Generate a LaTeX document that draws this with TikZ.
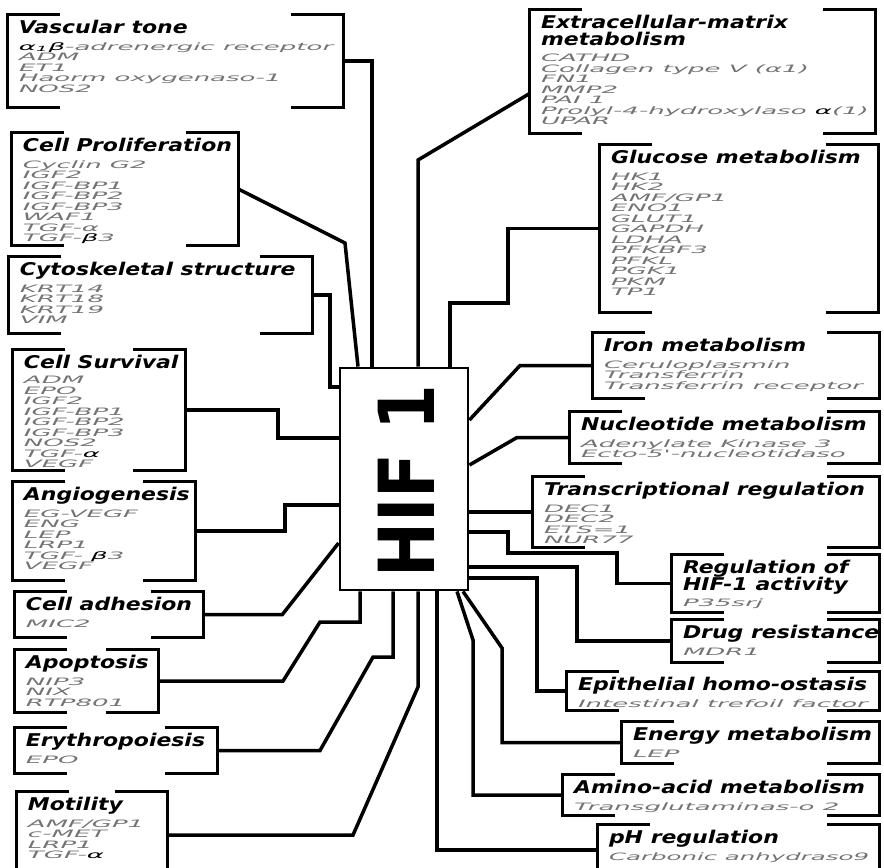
\documentclass[tikz,border=0pt]{standalone}
\usepackage{fontspec}
\usepackage{graphicx}
\usetikzlibrary{fit}
\newfontfamily\titlefont[FakeStretch=1.25]{DejaVu Sans}
\newfontfamily\genefont[FakeStretch=2.55]{DejaVu Sans}
\newfontfamily\hiffont{DejaVu Sans}
\newcommand{\grouptitle}[1]{\smash{\titlefont\bfseries\itshape\fontsize{10}{10}\selectfont\color{black}#1}}

\begin{document}
\begin{tikzpicture}[
  x=0.02cm, y=-0.02cm,
  lbrk/.style={draw, line width=2pt, to path={([xshift=1.05cm]\tikztostart) -- (\tikztostart) -- (\tikztotarget) -- ([xshift=1.05cm]\tikztotarget)}},
  rbrk/.style={draw, line width=2pt, to path={([xshift=-1.05cm]\tikztostart) -- (\tikztostart) -- (\tikztotarget) -- ([xshift=-1.05cm]\tikztotarget)}},
  grp/.style={inner sep=0pt, append after command={
    (\tikzlastnode.north west) edge[lbrk] (\tikzlastnode.south west)
    (\tikzlastnode.north east) edge[rbrk] (\tikzlastnode.south east)}},
  gtxt/.style={anchor=north west, inner sep=0pt, align=left, text=black!55,
    font=\genefont\itshape\fontsize{5.8}{6}\selectfont, xshift=0.22cm, yshift=-0.37cm},
  link/.style={line width=2pt}
]
\useasboundingbox (0,0) rectangle (884,867);
\clip (0,0) rectangle (884,867);

% HIF 1 in the middle
\node[draw, line width=1.6pt, inner sep=0pt, fit={(340,368) (468,590)}] (hif) {};
\node[rotate=90, font=\hiffont\bfseries\fontsize{44}{44}\selectfont] (hif-t) at (406,481) {\scalebox{0.85}[1]{HIF 1}};

% left column
\node[grp, fit={(8,15) (343,107)}] (vasc) {};
\node[gtxt] (vasc-t) at (vasc.north west) {\grouptitle{Vascular tone}\\[3.4pt]
  {\color{black}α\textsubscript{1}β}-adrenergic receptor\\ ADM\\ ET1\\ Haorm oxygenaso-1\\ NOS2};
\node[grp, fit={(12,133) (238,245)}] (prolif) {};
\node[gtxt] (prolif-t) at (prolif.north west) {\grouptitle{Cell Proliferation}\\[3.4pt]
  Cyclin G2\\ IGF2\\ IGF-BP1\\ IGF-BP2\\ IGF-BP3\\ WAF1\\ TGF-α\\ TGF-{\color{black}β}3};
\node[grp, fit={(9,257) (312,333)}] (cyto) {};
\node[gtxt] (cyto-t) at (cyto.north west) {\grouptitle{Cytoskeletal structure}\\[3.4pt]
  KRT14\\ KRT18\\ KRT19\\ VIM};
\node[grp, fit={(13,350) (185,470)}] (surv) {};
\node[gtxt] (surv-t) at (surv.north west) {\grouptitle{Cell Survival}\\[2.6pt]
  ADM\\ EPO\\ IGF2\\ IGF-BP1\\ IGF-BP2\\ IGF-BP3\\ NOS2\\ TGF-{\color{black}α}\\ VEGF};
\node[grp, fit={(13,482) (195,580)}] (angio) {};
\node[gtxt] (angio-t) at (angio.north west) {\grouptitle{Angiogenesis}\\[3.4pt]
  EG-VEGF\\ ENG\\ LEP\\ LRP1\\ TGF- {\color{black}β}3\\ VEGF};
\node[grp, fit={(15,592) (203,637)}] (adh) {};
\node[gtxt] (adh-t) at (adh.north west) {\grouptitle{Cell adhesion}\\[3.4pt] MIC2};
\node[grp, fit={(15,650) (158,712)}] (apop) {};
\node[gtxt] (apop-t) at (apop.north west) {\grouptitle{Apoptosis}\\[3.4pt]
  NIP3\\ NIX\\ RTP801};
\node[grp, fit={(15,728) (217,773)}] (eryth) {};
\node[gtxt] (eryth-t) at (eryth.north west) {\grouptitle{Erythropoiesis}\\[3.4pt] EPO};
\node[grp, fit={(17,792) (167,878)}] (mot) {};
\node[gtxt] (mot-t) at (mot.north west) {\grouptitle{Motility}\\[3.4pt]
  AMF/GP1\\ c-MET\\ LRP1\\ TGF-{\color{black}α}};

% right column
\node[grp, fit={(530,10) (875,133)}] (ecm) {};
\node[gtxt] (ecm-t) at (ecm.north west) {\grouptitle{Extracellular-matrix}\\[3.4pt]
  \grouptitle{metabolism}\\[3.4pt]
  CATHD\\ Collagen type V (α1)\\ FN1\\ MMP2\\ PAI 1\\ Prolyl-4-hydroxylaso {\color{black}α}(1)\\ UPAR};
\node[grp, fit={(600,145) (878,312)}] (gluc) {};
\node[gtxt] (gluc-t) at (gluc.north west) {\grouptitle{Glucose metabolism}\\[3.4pt]
  HK1\\ HK2\\ AMF/GP1\\ ENO1\\ GLUT1\\ GAPDH\\ LDHA\\ PFKBF3\\ PFKL\\ PGK1\\ PKM\\ TP1};
\node[grp, fit={(593,333) (879,398)}] (iron) {};
\node[gtxt] (iron-t) at (iron.north west) {\grouptitle{Iron metabolism}\\[3.4pt]
  Ceruloplasmin\\ Transferrin\\ Transferrin receptor};
\node[grp, fit={(570,412) (879,463)}] (nucl) {};
\node[gtxt] (nucl-t) at (nucl.north west) {\grouptitle{Nucleotide metabolism}\\[3.4pt]
  Adenylate Kinase 3\\ Ecto-5'-nucleotidaso};
\node[grp, fit={(533,477) (879,547)}] (transc) {};
\node[gtxt] (transc-t) at (transc.north west) {\grouptitle{Transcriptional regulation}\\[3.4pt]
  DEC1\\ DEC2\\ ETS=1\\ NUR77};
\node[grp, fit={(672,555) (879,612)}] (reg) {};
\node[gtxt] (reg-t) at (reg.north west) {\grouptitle{Regulation of}\\[3.4pt]
  \grouptitle{HIF-1 activity}\\[3.4pt] P35srj};
\node[grp, fit={(672,620) (879,662)}] (drug) {};
\node[gtxt] (drug-t) at (drug.north west) {\grouptitle{Drug resistance}\\[3.4pt] MDR1};
\node[grp, fit={(567,672) (879,710)}] (epith) {};
\node[gtxt] (epith-t) at (epith.north west) {\grouptitle{Epithelial homo-ostasis}\\[3.4pt]
  Intestinal trefoil factor};
\node[grp, fit={(622,722) (879,763)}] (energy) {};
\node[gtxt] (energy-t) at (energy.north west) {\grouptitle{Energy metabolism}\\[3.4pt] LEP};
\node[grp, fit={(563,775) (879,815)}] (amino) {};
\node[gtxt] (amino-t) at (amino.north west) {\grouptitle{Amino-acid metabolism}\\[3.4pt]
  Transglutaminas-o 2};
\node[grp, fit={(598,825) (879,875)}] (ph) {};
\node[gtxt] (ph-t) at (ph.north west) {\grouptitle{pH regulation}\\[3.4pt]
  \scalebox{0.94}[1]{Carbonic anhydraso9}};

% connectors, left side
\draw[link] (vasc.east) -| (372,0 |- hif.north);
\draw[link] (prolif.east) -- (345,243) -- (358,0 |- hif.north);
\draw[link] (cyto.east) -| (330,387) -- (hif.west |- 0,387);
\draw[link] (surv.east) -| (278,438) -- (hif.west |- 0,438);
\draw[link] (angio.east) -| (285,505) -- (hif.west |- 0,505);
\draw[link] (adh.east) -- ++(79,0) -- (hif.west |- 0,543);
\draw[link] (apop.east) -- (283,0 |- apop.east) -- (320,622) -| (360,0 |- hif.south);
\draw[link] (eryth.east) -- (320,0 |- eryth.east) -- (373,657) -| (393,0 |- hif.south);
\draw[link] (mot.east) -- (353,0 |- mot.east) -- (418,687) -- (418,0 |- hif.south);

% connectors, right side
\draw[link] ([yshift=-0.44cm]ecm.west) -- (418,160) -- (418,0 |- hif.north);
\draw[link] (gluc.west) -| (508,303) -| (450,0 |- hif.north);
\draw[link] (iron.west) -- (520,0 |- iron.west) -- (hif.east |- 0,420);
\draw[link] (nucl.west) -- (517,0 |- nucl.west) -- (hif.east |- 0,465);
\draw[link] (transc.west) -- (hif.east |- transc.west);
\draw[link] (reg.west) -| (617,553) -| (508,532) -- (hif.east |- 0,532);
\draw[link] (drug.west) -| (577,567) -- (hif.east |- 0,567);
\draw[link] (epith.west) -| (537,578) -- (hif.east |- 0,578);
\draw[link] (energy.west) -| (502,648) -- (463,0 |- hif.south);
\draw[link] (amino.west) -| (473,640) -- (457,0 |- hif.south);
\draw[link] (ph.west) -| (437,0 |- hif.south);

\end{tikzpicture}
\end{document}
